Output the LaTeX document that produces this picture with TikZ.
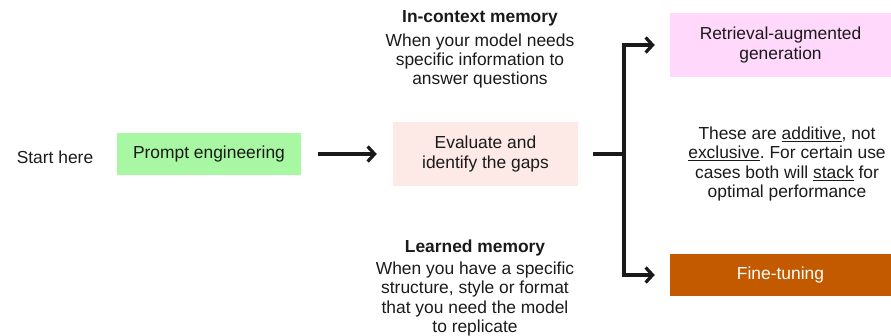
\documentclass[tikz,border=0pt]{standalone}
\usepackage{fontspec}
\setmainfont{Liberation Sans}
\usetikzlibrary{arrows.meta}
\frenchspacing
\definecolor{gbox}{HTML}{A8F7A2}
\definecolor{ebox}{HTML}{FDE9E5}
\definecolor{rbox}{HTML}{FFD8FC}
\definecolor{fbox}{HTML}{C45A00}
\definecolor{ink}{HTML}{1A1A1A}
\newcommand\myul[1]{\underline{#1}}
\tikzset{
  txt/.style={font=\fontsize{17.4}{19.3}\selectfont\frenchspacing, text=ink, align=center, inner sep=0pt},
  box/.style={txt, minimum height=#1},
  arr/.style={draw=ink, line width=3.2pt, -{Straight Barb[length=7pt,width=15pt,line width=3.2pt]}},
}
\begin{document}
\begin{tikzpicture}[x=1pt,y=-1pt]
\useasboundingbox (0,0) rectangle (891,335);
\node[txt] (start) at (55,157) {Start here};
\node[box=42pt, minimum width=184pt, fill=gbox] (pe) at (209,154) {Prompt engineering};
\node[box=64pt, minimum width=185pt, fill=ebox] (ev) at (485.5,154) {Evaluate and\\identify the gaps};
\node[box=64pt, minimum width=221pt, fill=rbox] (rag) at (780.5,45) {Retrieval-augmented\\generation};
\node[box=42pt, minimum width=221pt, fill=fbox, text=white] (ft) at (780.5,275) {Fine-tuning};
\node[txt, font=\fontsize{17.4}{19.3}\selectfont\bfseries] (ict) at (480,18) {In-context memory};
\node[txt] (icb) at (480,61) {When your model needs\\specific information to\\answer questions};
\node[txt, font=\fontsize{17.4}{19.3}\selectfont\bfseries] (lmt) at (475,248) {Learned memory};
\node[txt] (lmb) at (475,299) {When you have a specific\\structure, style or format\\that you need the model\\to replicate};
\node[txt] (add) at (787,164) {These are \myul{additive}, not\\\myul{exclusive}. For certain use\\cases both will \myul{stack} for\\optimal performance};
\coordinate (br) at (624,154);
\draw[arr] ([xshift=17pt]pe.east) -- ([xshift=-16pt]ev.west);
\draw[draw=ink, line width=3.2pt] ([xshift=15pt]ev.east) -- (br);
\draw[arr] (br) |- ([xshift=-15pt]rag.west);
\draw[arr] (br) |- ([xshift=-15pt]ft.west);
\end{tikzpicture}
\end{document}
